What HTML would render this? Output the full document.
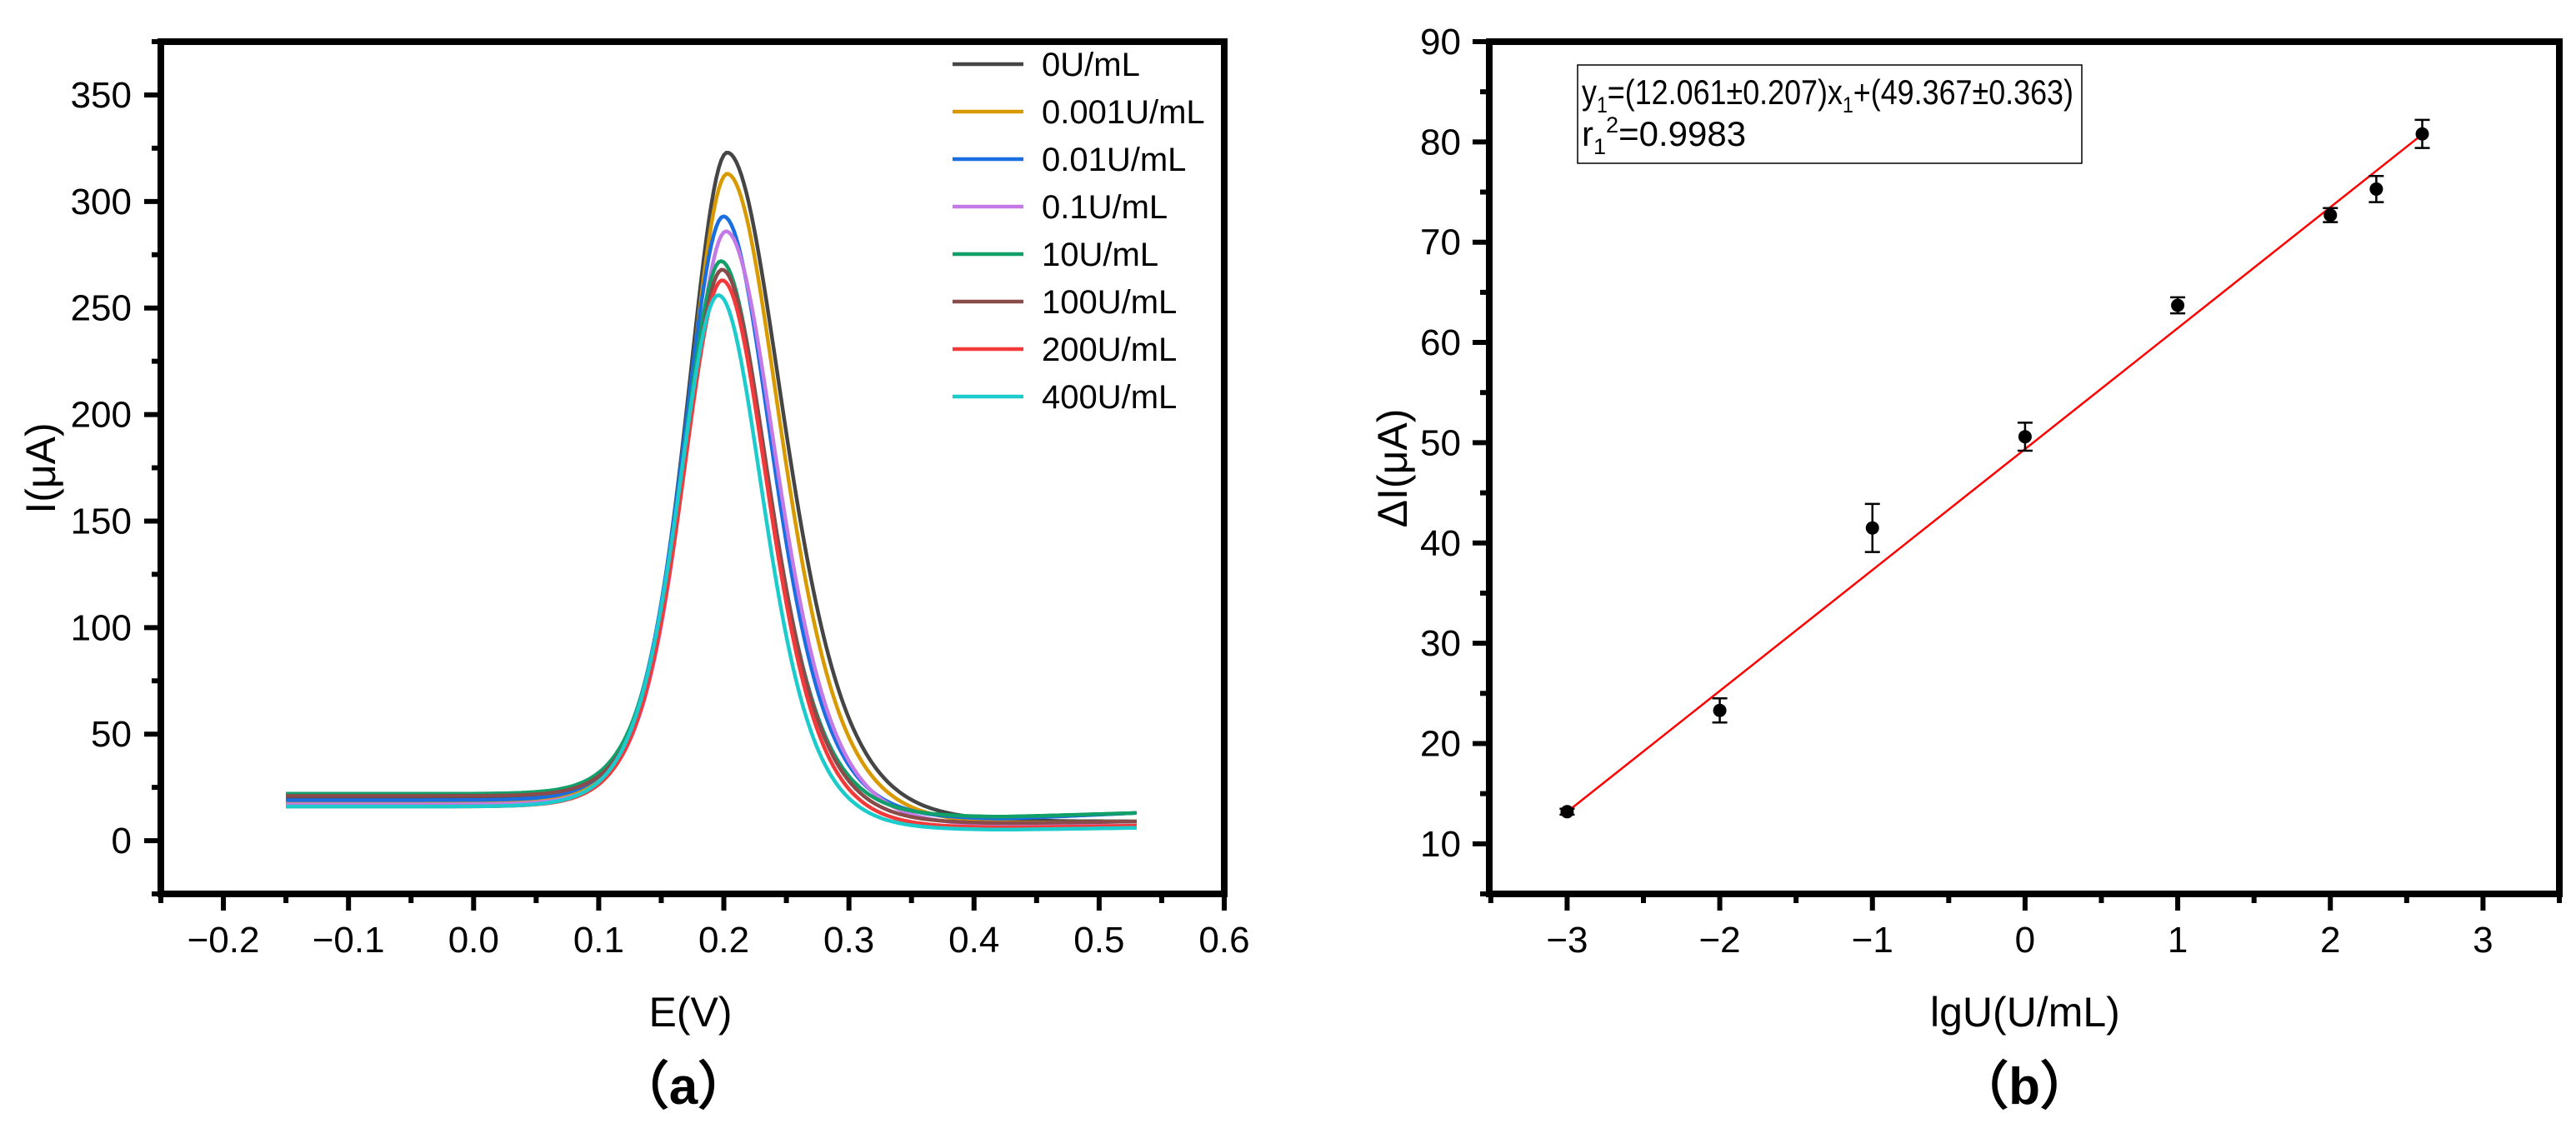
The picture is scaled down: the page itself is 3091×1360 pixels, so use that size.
<!DOCTYPE html>
<html><head><meta charset="utf-8"><style>
html,body{margin:0;padding:0;background:#fff;}
svg{display:block;font-family:"Liberation Sans","DejaVu Sans",sans-serif;}
</style></head><body>
<svg id="fig" width="3091" height="1360" viewBox="0 0 3091 1360" xmlns="http://www.w3.org/2000/svg">
<g id="chartA"></g>
<g id="chartB"></g>
</svg>
<script>
// ---------- Chart A data ----------
const seriesNames = ["0U/mL","0.001U/mL","0.01U/mL","0.1U/mL","10U/mL","100U/mL","200U/mL","400U/mL"];
const seriesColors = ["#454545","#d99a00","#1a6ee0","#c47ae6","#12a06a","#8a4b4b","#f23a3a","#1ccccc"];
const peakHeights = [323,313,293,286,272,268,263,256];
const peakPotentials = [0.203,0.203,0.200,0.202,0.198,0.199,0.199,0.196];
const leftWidths = [0.044,0.044,0.044,0.044,0.043,0.043,0.044,0.044];
const rightWidths = [0.061,0.058,0.053,0.055,0.051,0.051,0.050,0.049];
const baseStart = [20,18,19,17,22,21,16,16];
const baseMin = [9,8,10,7,11,8,6,5];
const baseEnd = [9,9,13,7,13,9,7,6];
const xTicksA = [-0.2,-0.1,0.0,0.1,0.2,0.3,0.4,0.5,0.6];
const yTicksA = [0,50,100,150,200,250,300,350];

// ---------- Chart B data ----------
const logConc = [-3,-2,-1,0,1,2,2.301,2.602];
const deltaI = [13.2,23.3,41.5,50.6,63.7,72.7,75.3,80.8];
const errBars = [0.3,1.2,2.4,1.4,0.8,0.7,1.3,1.4];
const fitSlope = [12.061];
const fitIntercept = [49.367];
const xTicksB = [-3,-2,-1,0,1,2,3];
const yTicksB = [10,20,30,40,50,60,70,80,90];

const NS="http://www.w3.org/2000/svg";
function mk(tag, attrs, parent){const e=document.createElementNS(NS,tag);for(const k in attrs)e.setAttribute(k,attrs[k]);parent.appendChild(e);return e;}

// ---------- Chart A ----------
(function(){
const g=document.getElementById('chartA');
const L=193,R=1469,T=50,B=1073;
const xmin=-0.25,xmax=0.6,ymin=-25,ymax=375;
const sx=v=>L+(v-xmin)/(xmax-xmin)*(R-L);
const sy=v=>B-(v-ymin)/(ymax-ymin)*(B-T);
for(let v=-0.25;v<=0.6001;v+=0.05){
  const major=Math.abs(Math.round(v*10)-v*10)<1e-6;
  const t=mk('line',{x1:sx(v),x2:sx(v),y1:B,y2:B+(major?20:11),stroke:'#000','stroke-width':6},g);
  
  
}
for(let v=-25;v<=375;v+=25){
  const major=v%50===0;
  const t=mk('line',{x1:L,x2:L-(major?20:11),y1:sy(v),y2:sy(v),stroke:'#000','stroke-width':6},g);
  
  
}
xTicksA.forEach(v=>{
  const t=mk('text',{x:sx(v),y:1143,'font-size':44,'text-anchor':'middle'},g);
  t.textContent=(v<0?'\u2212':'')+Math.abs(v).toFixed(1);
  
  
});
yTicksA.forEach(v=>{
  const t=mk('text',{x:158,y:sy(v)+15,'font-size':44,'text-anchor':'end'},g);
  t.textContent=v;
  
  
});
const sig=z=>1/(1+Math.exp(-z));
const sech2=u=>{const c=Math.cosh(u);return 1/(c*c);};
seriesNames.forEach((n,i)=>{
  const base=E=>{const right=E<0.42?baseMin[i]:baseMin[i]+(baseEnd[i]-baseMin[i])*(E-0.42)/0.11;
    return baseStart[i]+(right-baseStart[i])*sig((E-0.22)/0.04);};
  const c=peakPotentials[i];const amp=peakHeights[i]-base(c);
  let d='';
  for(let k=0;k<=340;k++){
    const E=-0.15+k*0.002;
    const s=E<c?leftWidths[i]:rightWidths[i];
    const I=base(E)+amp*sech2((E-c)/s);
    d+=(k?'L':'M')+sx(E).toFixed(1)+','+sy(I).toFixed(1);
  }
  const p=mk('path',{d:d,fill:'none',stroke:seriesColors[i],'stroke-width':4.5,'stroke-linejoin':'round'},g);
  
  
  const y=77+i*57;
  const ll=mk('line',{x1:1143,x2:1228,y1:y,y2:y,stroke:seriesColors[i],'stroke-width':4.5},g);
  
  
  const lt=mk('text',{x:1250,y:y+14,'font-size':40},g);
  lt.textContent=n;
  
  
});
const fr=mk('rect',{x:L,y:T,width:R-L,height:B-T,fill:'none',stroke:'#000','stroke-width':8},g);


const xt=mk('text',{x:sx(0.2)-40,y:1232,'font-size':50,'text-anchor':'middle'},g);
xt.textContent='E(V)';


const yt=mk('text',{x:0,y:0,'font-size':50,'text-anchor':'middle',transform:'translate(66,562) rotate(-90)'},g);
yt.textContent='I(\u03bcA)';


const cap=mk('text',{x:820,y:1325,'font-size':62,'font-weight':'bold','text-anchor':'middle'},g);
cap.textContent='\uff08a\uff09';


})();

// ---------- Chart B ----------
(function(){
const g=document.getElementById('chartB');
const L=1787,R=3071,T=50,B=1073;
const xmin=-3.51,xmax=3.5,ymin=5,ymax=90;
const sx=v=>L+(v-xmin)/(xmax-xmin)*(R-L);
const sy=v=>B-(v-ymin)/(ymax-ymin)*(B-T);
for(let v=-3.5;v<=3.5001;v+=0.5){
  const major=Math.abs(v-Math.round(v))<1e-6;
  const t=mk('line',{x1:sx(v),x2:sx(v),y1:B,y2:B+(major?20:11),stroke:'#000','stroke-width':6},g);
  
  
}
for(let v=5;v<=90;v+=5){
  const major=v%10===0;
  const t=mk('line',{x1:L,x2:L-(major?20:11),y1:sy(v),y2:sy(v),stroke:'#000','stroke-width':6},g);
  
  
}
xTicksB.forEach(v=>{
  const t=mk('text',{x:sx(v),y:1143,'font-size':44,'text-anchor':'middle'},g);
  t.textContent=(v<0?'\u2212':'')+Math.abs(v);
  
  
});
yTicksB.forEach(v=>{
  const t=mk('text',{x:1753,y:sy(v)+15,'font-size':44,'text-anchor':'end'},g);
  t.textContent=v;
  
  
});
const x0=logConc[0],x1=logConc[logConc.length-1];
const fl=mk('line',{x1:sx(x0),y1:sy(fitSlope[0]*x0+fitIntercept[0]),x2:sx(x1),y2:sy(fitSlope[0]*x1+fitIntercept[0]),stroke:'#ff0000','stroke-width':2.5},g);


logConc.forEach((x,i)=>{
  const cx=sx(x),y=deltaI[i],e=errBars[i];
  const eb=mk('path',{d:`M${cx},${sy(y-e)}V${sy(y+e)}M${cx-9},${sy(y-e)}H${cx+9}M${cx-9},${sy(y+e)}H${cx+9}`,stroke:'#000','stroke-width':2.5,fill:'none'},g);
  
  
  const c=mk('circle',{cx:cx,cy:sy(y),r:8,fill:'#000'},g);
  
  
});
const fr=mk('rect',{x:L,y:T,width:R-L,height:B-T,fill:'none',stroke:'#000','stroke-width':8},g);


const bx=mk('rect',{x:1893,y:78,width:605,height:118,fill:'#fff',stroke:'#000','stroke-width':1.5},g);


const t1=mk('text',{x:1898,y:125,'font-size':42,textLength:590,lengthAdjust:'spacingAndGlyphs'},g);
t1.innerHTML='y<tspan font-size="27" dy="10">1</tspan><tspan dy="-10">=(12.061\u00b10.207)x</tspan><tspan font-size="27" dy="10">1</tspan><tspan dy="-10">+(49.367\u00b10.363)</tspan>';


const t2=mk('text',{x:1898,y:175,'font-size':42},g);
t2.innerHTML='r<tspan font-size="27" dy="10">1</tspan><tspan font-size="27" dy="-26">2</tspan><tspan dy="16">=0.9983</tspan>';


const xt=mk('text',{x:sx(0),y:1232,'font-size':50,'text-anchor':'middle'},g);
xt.textContent='lgU(U/mL)';


const yt=mk('text',{x:0,y:0,'font-size':50,'text-anchor':'middle',transform:'translate(1688,562) rotate(-90)'},g);
yt.textContent='\u0394I(\u03bcA)';


const cap=mk('text',{x:2429,y:1325,'font-size':62,'font-weight':'bold','text-anchor':'middle'},g);
cap.textContent='\uff08b\uff09';


})();
</script>
</body></html>
